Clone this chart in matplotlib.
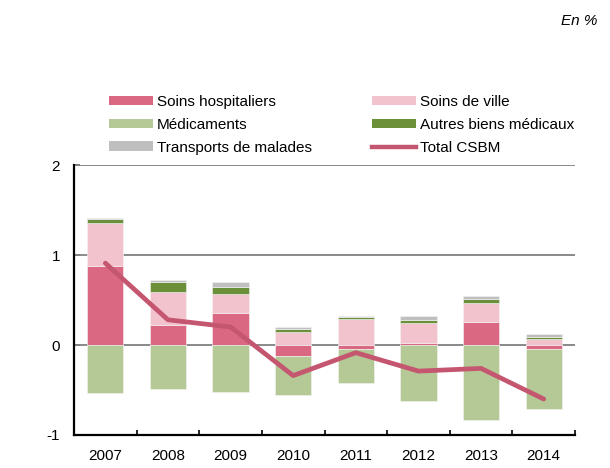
import matplotlib
matplotlib.use("Agg")
import matplotlib.pyplot as plt
import numpy as np
from matplotlib.patches import Patch
from matplotlib.lines import Line2D

plt.rcParams['font.family'] = ['Liberation Sans', 'DejaVu Sans']

years = ["2007", "2008", "2009", "2010", "2011", "2012", "2013", "2014"]
soins_hosp = [0.88, 0.22, 0.36, -0.12, -0.045, 0.02, 0.26, -0.04]
soins_ville = [0.48, 0.37, 0.21, 0.145, 0.285, 0.22, 0.21, 0.07]
medicaments = [-0.53, -0.485, -0.525, -0.44, -0.38, -0.62, -0.83, -0.675]
autres_biens = [0.035, 0.115, 0.078, 0.03, 0.022, 0.04, 0.04, 0.02]
transports = [0.02, 0.015, 0.056, 0.026, 0.015, 0.038, 0.04, 0.037]
total_csbm = [0.91, 0.28, 0.20, -0.34, -0.085, -0.29, -0.26, -0.60]

series = [
    ("Soins hospitaliers", soins_hosp, "#DB6882"),
    ("Soins de ville", soins_ville, "#F2C3CC"),
    ("Médicaments", medicaments, "#B4C995"),
    ("Autres biens médicaux", autres_biens, "#6C8F3A"),
    ("Transports de malades", transports, "#BFBFBF"),
]
line_color = "#C4566F"

fig = plt.figure(figsize=(6.10, 4.68), dpi=100)
ax = fig.add_axes([74/610, 1-435/468, (575-74)/610, (435-165)/468])

x = np.arange(len(years))
pos_bottom = np.zeros(len(years))
neg_bottom = np.zeros(len(years))
for name, vals, col in series:
    v = np.array(vals, dtype=float)
    bottoms = np.where(v >= 0, pos_bottom, neg_bottom)
    ax.bar(x, v, width=0.58, bottom=bottoms, color=col, edgecolor="#F4F4F4",
           linewidth=0.4, zorder=3)
    pos_bottom = pos_bottom + np.where(v >= 0, v, 0)
    neg_bottom = neg_bottom + np.where(v < 0, v, 0)

ax.plot(x, total_csbm, color=line_color, lw=3.4, solid_capstyle="round",
        solid_joinstyle="round", zorder=4)

ax.set_xlim(-0.5, len(years) - 0.5)
ax.set_ylim(-1, 2)
ax.set_yticks([-1, 0, 1, 2])
ax.set_yticklabels(["-1", "0", "1", "2"])
for yv in [0, 1, 2]:
    ax.axhline(yv, color="#808080", lw=1.3, zorder=2)

ax.set_xticks(x)
ax.set_xticklabels(years)
ax.set_xticks(np.arange(-0.5, len(years), 1.0), minor=True)
ax.tick_params(axis="x", which="major", length=0, pad=10, labelsize=11)
ax.tick_params(axis="x", which="minor", direction="in", length=3.5, width=1.2, color="black")
ax.tick_params(axis="y", direction="in", length=4, width=1.2, color="#606060",
               pad=10, labelsize=11)

for s in ["top", "right"]:
    ax.spines[s].set_visible(False)
ax.spines["left"].set_linewidth(1.6)
ax.spines["bottom"].set_linewidth(1.6)

handles = [Patch(facecolor=series[0][2], label=series[0][0]),
           Patch(facecolor=series[2][2], label=series[2][0]),
           Patch(facecolor=series[4][2], label=series[4][0]),
           Patch(facecolor=series[1][2], label=series[1][0]),
           Patch(facecolor=series[3][2], label=series[3][0]),
           Line2D([0], [0], color=line_color, lw=3.2, label="Total CSBM")]
fig.legend(handles=handles, ncol=2, loc="upper left",
           bbox_to_anchor=(109/610, 1-95/468), frameon=False, fontsize=11,
           handlelength=2.9, handleheight=0.6, handletextpad=0.25,
           columnspacing=3.9, labelspacing=0.58, borderpad=0, borderaxespad=0)

fig.text(597/610, 1-21/468, "En %", ha="right", va="center", fontsize=11, style="italic")

fig.savefig("out.png", dpi=100)
